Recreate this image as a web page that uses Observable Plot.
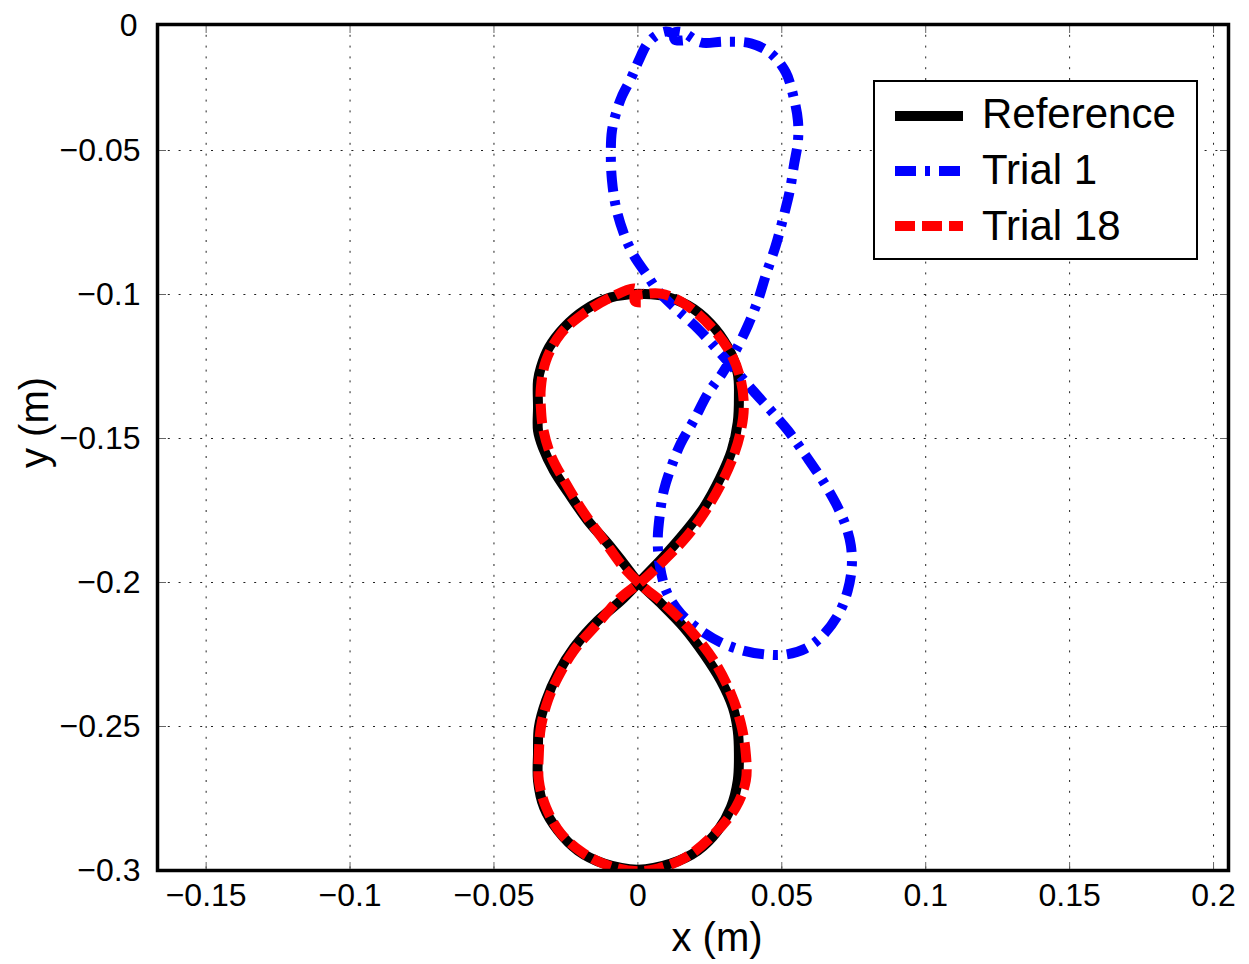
<!DOCTYPE html>
<html>
<head>
<meta charset="utf-8">
<script src="https://cdn.jsdelivr.net/npm/d3@7"></script>
<script src="https://cdn.jsdelivr.net/npm/@observablehq/plot@0.6"></script>
<style>
  html, body { margin: 0; padding: 0; background: #ffffff; }
  #wrap { position: relative; width: 1249px; height: 964px; font-family: "Liberation Sans", Arial, Helvetica, sans-serif; }
  #wrap > svg { position: absolute; left: 0; top: 0; }
</style>
</head>
<body>
<div id="wrap"></div>
<script>
// ---- tick values & labels ----
const xTicks = [-0.15, -0.1, -0.05, 0, 0.05, 0.1, 0.15, 0.2];
const yTicks = [-0.3, -0.25, -0.2, -0.15, -0.1, -0.05];
const yTopLabel = "0";
const xDomain = [-0.1669, 0.2052];
const yDomain = [-0.3, -0.00625];
const xLabel = "x (m)";
const yLabel = "y (m)";
const seriesNames = ["Reference", "Trial 1", "Trial 18"];

// ---- series values: [x, y] in metres ----
const referencePath = [
  [0, -0.0997], [0.0080, -0.1003], [0.0174, -0.1038], [0.0253, -0.1101], [0.0313, -0.1184],
  [0.0347, -0.1274], [0.0351, -0.1358], [0.0347, -0.1444], [0.0326, -0.1542], [0.0285, -0.1639],
  [0.0229, -0.1740], [0.0160, -0.1830], [0.0090, -0.1910], [0.0003, -0.2000], [-0.0059, -0.2063],
  [-0.0139, -0.2132], [-0.0222, -0.2226], [-0.0278, -0.2316], [-0.0319, -0.2410], [-0.0344, -0.2503],
  [-0.0347, -0.2594], [-0.0347, -0.2688], [-0.0326, -0.2781], [-0.0278, -0.2861], [-0.0208, -0.2931],
  [-0.0118, -0.2976], [0, -0.2997], [0.0115, -0.2976], [0.0208, -0.2931], [0.0278, -0.2861],
  [0.0323, -0.2781], [0.0347, -0.2688], [0.0351, -0.2594], [0.0347, -0.2514], [0.0330, -0.2434],
  [0.0288, -0.2340], [0.0229, -0.2247], [0.0160, -0.2156], [0.0080, -0.2073], [0.0003, -0.2000],
  [-0.0049, -0.1934], [-0.0104, -0.1865], [-0.0174, -0.1785], [-0.0240, -0.1691], [-0.0292, -0.1611],
  [-0.0330, -0.1531], [-0.0347, -0.1472], [-0.0347, -0.1392], [-0.0347, -0.1299], [-0.0337, -0.1253],
  [-0.0309, -0.1184], [-0.0257, -0.1115], [-0.0188, -0.1056], [-0.0094, -0.1010], [0, -0.0997]
];

const trial1Path = [
  [0.0156, -0.0118], [0.0128, -0.0115], [0.0128, -0.0090], [0.0156, -0.0090],
  [0.0219, -0.0125], [0.0299, -0.0122], [0.0392, -0.0128], [0.0462, -0.0163], [0.0514, -0.0229],
  [0.0542, -0.0319], [0.0556, -0.0396], [0.0556, -0.0469], [0.0542, -0.0552], [0.0528, -0.0639],
  [0.0507, -0.0726], [0.0479, -0.0830], [0.0444, -0.0934], [0.0417, -0.1021], [0.0382, -0.1108],
  [0.0340, -0.1194], [0.0295, -0.1271], [0.0243, -0.1344], [0.0194, -0.1438], [0.0149, -0.1517],
  [0.0115, -0.1601], [0.0090, -0.1681], [0.0076, -0.1767], [0.0069, -0.1854], [0.0076, -0.1941],
  [0.0101, -0.2035], [0.0149, -0.2108], [0.0219, -0.2167], [0.0288, -0.2208], [0.0365, -0.2236],
  [0.0444, -0.2250], [0.0514, -0.2250], [0.0583, -0.2229], [0.0642, -0.2184], [0.0698, -0.2108],
  [0.0729, -0.2028], [0.0743, -0.1948], [0.0740, -0.1872], [0.0722, -0.1802], [0.0688, -0.1726],
  [0.0642, -0.1646], [0.0583, -0.1559], [0.0521, -0.1472], [0.0462, -0.1403], [0.0399, -0.1333],
  [0.0340, -0.1264], [0.0278, -0.1194], [0.0208, -0.1118], [0.0132, -0.1049], [0.0069, -0.0986],
  [0.0028, -0.0927], [-0.0014, -0.0865], [-0.0049, -0.0788], [-0.0076, -0.0698], [-0.0090, -0.0604],
  [-0.0094, -0.0517], [-0.0090, -0.0431], [-0.0073, -0.0361], [-0.0056, -0.0313], [-0.0024, -0.0250],
  [0.0003, -0.0188], [0.0031, -0.0132], [0.0063, -0.0101], [0.0097, -0.0087], [0.0122, -0.0094]
];

const trial18Path = [
  [0.0010, -0.1028], [-0.0010, -0.1024], [-0.0010, -0.1003], [0.0010, -0.1000],
  [0.0080, -0.0997], [0.0160, -0.1031], [0.0253, -0.1111], [0.0323, -0.1205], [0.0358, -0.1299],
  [0.0368, -0.1392], [0.0358, -0.1472], [0.0333, -0.1559], [0.0295, -0.1646], [0.0236, -0.1750],
  [0.0167, -0.1844], [0.0090, -0.1924], [0.0017, -0.1993], [-0.0059, -0.2052], [-0.0139, -0.2142],
  [-0.0222, -0.2236], [-0.0278, -0.2330], [-0.0313, -0.2410], [-0.0337, -0.2503], [-0.0344, -0.2594],
  [-0.0344, -0.2688], [-0.0319, -0.2781], [-0.0267, -0.2872], [-0.0188, -0.2941], [-0.0094, -0.2986],
  [0, -0.3003], [0.0069, -0.2993], [0.0160, -0.2958], [0.0253, -0.2885], [0.0340, -0.2781],
  [0.0375, -0.2688], [0.0375, -0.2594], [0.0358, -0.2490], [0.0323, -0.2385], [0.0264, -0.2271],
  [0.0184, -0.2167], [0.0090, -0.2073], [0.0021, -0.2017], [-0.0049, -0.1948], [-0.0118, -0.1854],
  [-0.0188, -0.1757], [-0.0250, -0.1656], [-0.0302, -0.1559], [-0.0330, -0.1462], [-0.0337, -0.1392],
  [-0.0337, -0.1323], [-0.0319, -0.1229], [-0.0267, -0.1135], [-0.0188, -0.1066], [-0.0094, -0.1010],
  [-0.0014, -0.0979], [0.0010, -0.0993]
];

// ---- styles (kept separate from the data) ----
const FONT = '"Liberation Sans", Arial, Helvetica, sans-serif';
const seriesStyle = {
  "Reference": { stroke: "#000000", width: 10, dash: null },
  "Trial 1":   { stroke: "#0000ff", width: 10, dash: "21,9,5,9" },
  "Trial 18":  { stroke: "#ff0000", width: 10, dash: "20,7" }
};
const paths = { "Reference": referencePath, "Trial 1": trial1Path, "Trial 18": trial18Path };

const rows = name => paths[name].map(([x, y], i) => ({ x, y, i, series: name }));
const fmt = d => (d === 0 ? "0" : (d < 0 ? "\u2212" : "") + String(Math.abs(d)));

const gridStyle = { stroke: "#222", strokeOpacity: 1, strokeWidth: 1, strokeDasharray: "2,8.8" };
const tickStyle = { fill: "none", stroke: "#666", strokeWidth: 1, label: null };

const lineMarks = seriesNames.map(name => {
  const s = seriesStyle[name];
  return Plot.line(rows(name), {
    x: "x", y: "y",
    stroke: s.stroke, strokeWidth: s.width,
    strokeDasharray: s.dash || undefined,
    strokeLinecap: "butt", strokeLinejoin: "round",
    curve: "catmull-rom", clip: true
  });
});

const chart = Plot.plot({
  width: 1249, height: 964,
  marginLeft: 157, marginRight: 21, marginTop: 24, marginBottom: 94,
  x: { domain: xDomain },
  y: { domain: yDomain },
  style: { fontFamily: FONT, background: "#ffffff", color: "#000000" },
  marks: [
    Plot.gridX(xTicks, gridStyle),
    Plot.gridY(yTicks.filter(v => v > yDomain[0]), gridStyle),
    Plot.axisX(xTicks, { anchor: "bottom", tickSize: -8, ...tickStyle }),
    Plot.axisX(xTicks, { anchor: "top", tickSize: -8, ...tickStyle }),
    Plot.axisY(yTicks, { anchor: "left", tickSize: -9, ...tickStyle }),
    Plot.axisY(yTicks, { anchor: "right", tickSize: -9, ...tickStyle }),
    Plot.axisX(xTicks, { anchor: "bottom", tickSize: 0, tickPadding: 13, fontSize: 32, tickFormat: fmt, label: null }),
    Plot.axisY(yTicks, { anchor: "left", tickSize: 0, tickPadding: 17, fontSize: 32, tickFormat: fmt, label: null }),
    Plot.text([yTopLabel], { frameAnchor: "top-left", dx: -20, dy: 1, textAnchor: "end", lineAnchor: "middle", fontSize: 32 }),
    ...lineMarks,
    Plot.frame({ stroke: "#000000", strokeWidth: 3.5 }),
    Plot.text([xLabel], { frameAnchor: "bottom", dx: 24, dy: 68, textAnchor: "middle", lineAnchor: "middle", fontSize: 40 }),
    Plot.text([yLabel], { frameAnchor: "left", dx: -122, dy: -25, rotate: -90, textAnchor: "middle", lineAnchor: "middle", fontSize: 40 })
  ]
});

const wrap = document.getElementById("wrap");
wrap.appendChild(chart);

// ---- legend (overlay, top-right inside the axes) ----
const legend = d3.select(wrap).append("svg")
  .attr("width", 1249).attr("height", 964)
  .style("pointer-events", "none");
legend.append("rect")
  .attr("x", 874).attr("y", 81).attr("width", 323).attr("height", 178)
  .attr("fill", "#ffffff").attr("stroke", "#000000").attr("stroke-width", 2);
const rowY = [116, 171, 226];
const textY = [128, 183.5, 240];
seriesNames.forEach((name, k) => {
  const s = seriesStyle[name];
  legend.append("line")
    .attr("x1", 895).attr("x2", 963).attr("y1", rowY[k]).attr("y2", rowY[k])
    .attr("stroke", s.stroke).attr("stroke-width", s.width)
    .attr("stroke-dasharray", s.dash)
    .attr("stroke-linecap", "butt");
  legend.append("text")
    .attr("x", 982).attr("y", textY[k])
    .attr("font-family", FONT).attr("font-size", 42).attr("fill", "#000")
    .text(name);
});
</script>
</body>
</html>
